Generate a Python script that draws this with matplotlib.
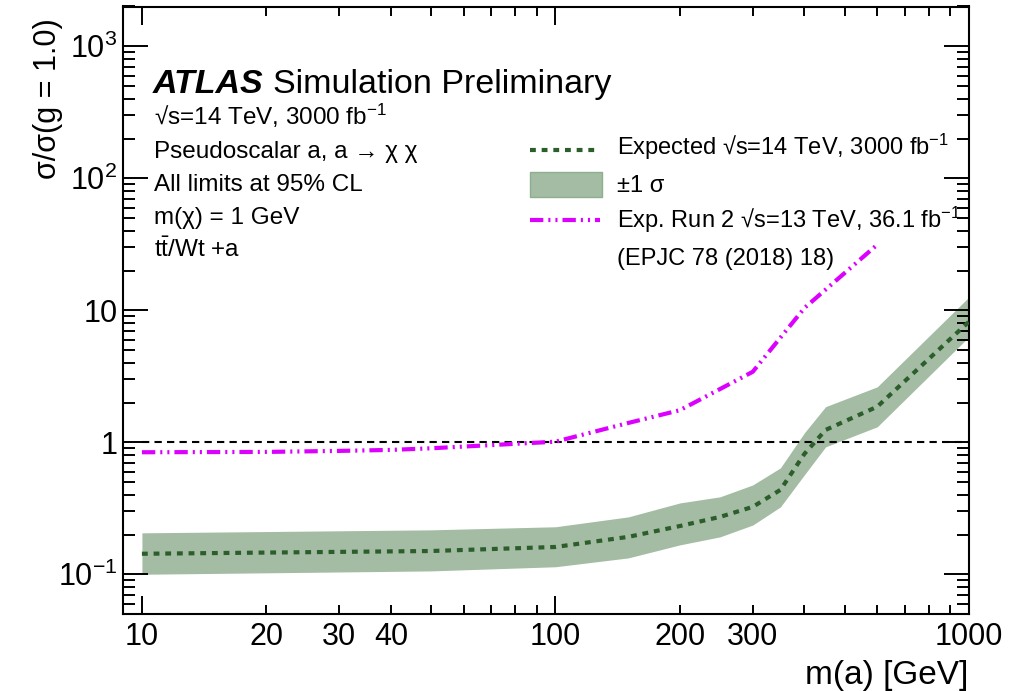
import matplotlib
matplotlib.use("Agg")
import matplotlib.pyplot as plt
from matplotlib.lines import Line2D
from matplotlib.patches import Rectangle
from matplotlib.ticker import FixedLocator, FixedFormatter, NullFormatter

plt.rcParams['font.family'] = ['Liberation Sans', 'DejaVu Sans']
plt.rcParams['mathtext.fontset'] = 'custom'
plt.rcParams['mathtext.rm'] = 'Liberation Sans'
plt.rcParams['mathtext.it'] = 'Liberation Sans:italic'
plt.rcParams['mathtext.bf'] = 'Liberation Sans:bold'

# HL-LHC expected limit with +-1 sigma band
mass_exp = [10, 50, 100, 150, 200, 250, 300, 350, 400, 450, 600, 1000]
exp_median = [0.143, 0.150, 0.161, 0.192, 0.232, 0.272, 0.324, 0.436, 0.817, 1.24, 1.86, 8.2]
exp_up = [0.206, 0.217, 0.229, 0.272, 0.347, 0.386, 0.475, 0.64, 1.18, 1.86, 2.63, 12.6]
exp_down = [0.100, 0.106, 0.114, 0.133, 0.167, 0.192, 0.236, 0.324, 0.567, 0.923, 1.31, 6.3]

# Run 2 expected limit (36.1 fb-1)
mass_run2 = [10, 20, 30, 40, 50, 100, 150, 200, 300, 400, 600]
run2_exp = [0.84, 0.845, 0.86, 0.875, 0.90, 1.01, 1.40, 1.75, 3.42, 10.4, 31.4]

x_major = [10, 100, 1000]
x_major_labels = ['10', '100', '1000']
x_minor = [20, 30, 40, 50, 60, 70, 80, 90, 200, 300, 400, 500, 600, 700, 800, 900]
x_minor_labels = ['20', '30', '40', '', '', '', '', '', '200', '300', '', '', '', '', '', '']
y_major = [0.1, 1, 10, 100, 1000]
y_major_labels = [r'$10^{-1}$', '1', '10', r'$10^{2}$', r'$10^{3}$']

W, H = 1015, 691
fig = plt.figure(figsize=(W / 100, H / 100), dpi=100)
ax = fig.add_axes([123 / W, 1 - 614 / H, (969 - 123) / W, (614 - 6.5) / H])
ax.set_xscale('log')
ax.set_yscale('log')
ax.set_xlim(9, 1000)
ax.set_ylim(0.05, 2000)

band_color = '#a3bca3'
line_green = '#2b5e2b'
magenta = '#dc00ff'

ax.fill_between(mass_exp, exp_down, exp_up, color=band_color, lw=0, zorder=1)
ax.plot(mass_exp, exp_median, color=line_green, lw=3.0, linestyle=(0, (1.4, 1.4)), zorder=3)
ax.plot(mass_run2, run2_exp, color=magenta, lw=3.0,
        linestyle=(0, (3.2, 1.2, 0.5, 1.2, 0.5, 1.2)), zorder=3)
ax.plot([10, 1000], [1, 1], color='black', lw=1.5, linestyle=(0, (3.5, 2.5)), zorder=2)

# ticks
ax.xaxis.set_major_locator(FixedLocator(x_major))
ax.xaxis.set_major_formatter(FixedFormatter(x_major_labels))
ax.xaxis.set_minor_locator(FixedLocator(x_minor))
ax.xaxis.set_minor_formatter(FixedFormatter(x_minor_labels))
ax.yaxis.set_major_locator(FixedLocator(y_major))
ax.yaxis.set_major_formatter(FixedFormatter(y_major_labels))
y_minor = [m * 10.0 ** e for e in range(-2, 4) for m in range(2, 10)]
ax.yaxis.set_minor_locator(FixedLocator(y_minor))
ax.yaxis.set_minor_formatter(NullFormatter())

ax.tick_params(axis='both', which='both', direction='in', top=True, right=True, width=1.4,
               colors='black', labelsize=22)
ax.tick_params(axis='x', which='major', length=13, pad=6)
ax.tick_params(axis='x', which='minor', length=6.5, pad=6)
ax.tick_params(axis='y', which='major', length=18, pad=4)
ax.tick_params(axis='y', which='minor', length=8.6)
for s in ax.spines.values():
    s.set_linewidth(1.5)

fig.text(968 / W, 1 - 684 / H, 'm(a) [GeV]', ha='right', va='baseline', fontsize=24)
fig.text(48 / W, 1 - 18 / H, 'σ/σ(g = 1.0)', ha='center', va='top', rotation=90, fontsize=22)


def fx(px):
    return px / W


def fy(py):
    return 1 - py / H


# ATLAS label and annotations
t = fig.text(fx(153), fy(93), 'ATLAS', fontsize=24.5, fontweight='bold', fontstyle='italic',
             va='baseline')
fig.canvas.draw()
bb = t.get_window_extent()
fig.text(bb.x1 / W + 9 / W, fy(93), 'Simulation Preliminary', fontsize=24.5, va='baseline')

info = ['√s=14 TeV, 3000 fb$^{-1}$',
        'Pseudoscalar a, a → χ χ',
        'All limits at 95% CL',
        'm(χ) = 1 GeV',
        r'$\mathrm{t\bar{t}}$/Wt +a']
for i, s in enumerate(info):
    fig.text(fx(154), fy(125 + 33 * i), s, fontsize=17.5, va='baseline')

# legend
fig.add_artist(Line2D([fx(530), fx(600)], [fy(150), fy(150)], color=line_green, lw=3.0,
                      linestyle=(0, (1.4, 1.4)), transform=fig.transFigure))
fig.add_artist(Rectangle((fx(530), fy(197)), (602 - 530) / W, (197 - 172) / H,
                         facecolor=band_color, edgecolor='#8fae8f', lw=1,
                         transform=fig.transFigure))
fig.add_artist(Line2D([fx(530), fx(600)], [fy(220), fy(220)], color=magenta, lw=3.0,
                      linestyle=(0, (3.2, 1.2, 0.5, 1.2, 0.5, 1.2)), transform=fig.transFigure))
legend_text = ['Expected √s=14 TeV, 3000 fb$^{-1}$',
               '±1 σ',
               'Exp. Run 2 √s=13 TeV, 36.1 fb$^{-1}$',
               '(EPJC 78 (2018) 18)']
for s, yb in zip(legend_text, [155, 192, 228, 265]):
    fig.text(fx(617), fy(yb), s, fontsize=17, va='baseline')

fig.savefig('out.png', dpi=100)
